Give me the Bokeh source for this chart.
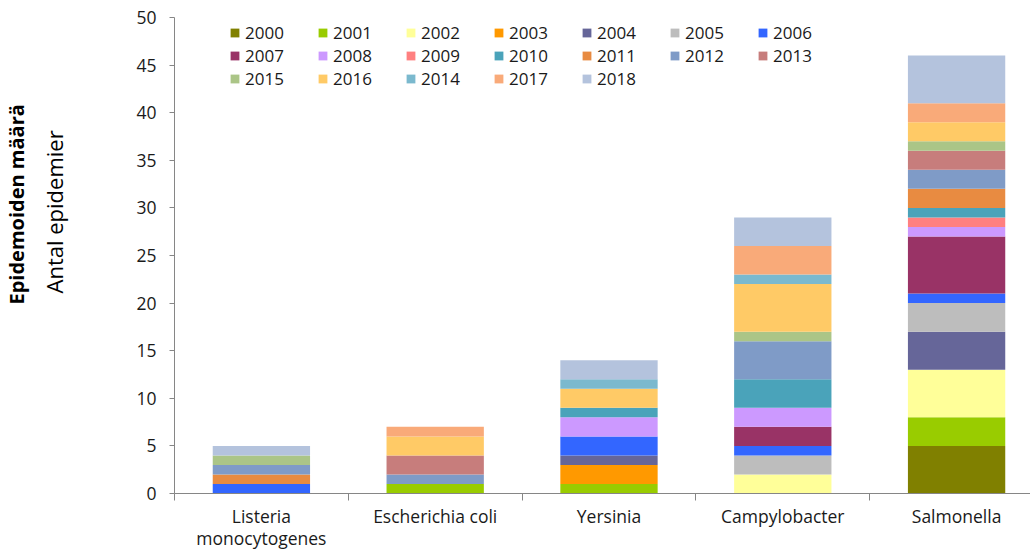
from bokeh.plotting import figure
from bokeh.models import ColumnDataSource, FixedTicker, Range1d, Title, Legend
from bokeh.embed import file_html
from bokeh.resources import INLINE

categories = ["Listeria\nmonocytogenes", "Escherichia coli", "Yersinia", "Campylobacter", "Salmonella"]

# outbreaks per year (Listeria, E. coli, Yersinia, Campylobacter, Salmonella)
y2000 = [0, 0, 0, 0, 5]
y2001 = [0, 1, 1, 0, 3]
y2002 = [0, 0, 0, 2, 5]
y2003 = [0, 0, 2, 0, 0]
y2004 = [0, 0, 1, 0, 4]
y2005 = [0, 0, 0, 2, 3]
y2006 = [1, 0, 2, 1, 1]
y2007 = [0, 0, 0, 2, 6]
y2008 = [0, 0, 2, 2, 1]
y2009 = [0, 0, 0, 0, 1]
y2010 = [0, 0, 1, 3, 1]
y2011 = [1, 0, 0, 0, 2]
y2012 = [1, 1, 0, 4, 2]
y2013 = [0, 2, 0, 0, 2]
y2015 = [1, 0, 0, 1, 1]
y2016 = [0, 2, 2, 5, 2]
y2014 = [0, 0, 1, 1, 0]
y2017 = [0, 1, 0, 3, 2]
y2018 = [1, 0, 2, 3, 5]

years = ["2000", "2001", "2002", "2003", "2004", "2005", "2006", "2007", "2008", "2009",
         "2010", "2011", "2012", "2013", "2015", "2016", "2014", "2017", "2018"]
series = [y2000, y2001, y2002, y2003, y2004, y2005, y2006, y2007, y2008, y2009,
          y2010, y2011, y2012, y2013, y2015, y2016, y2014, y2017, y2018]
colors = ["#808000", "#99CC00", "#FFFF99", "#FF9900", "#666699", "#BDBDBD", "#3366FF",
          "#993366", "#CC99FF", "#FF8080", "#4AA3BA", "#E88B41", "#7F9BC7", "#C77D7C",
          "#ABC587", "#FFCA66", "#7BB9CE", "#F9AA79", "#B4C3DD"]
y_ticks = list(range(0, 51, 5))

FONT = "Open Sans"
TXT = "#1a1a1a"

xs = [i + 0.5 for i in range(len(categories))]
data = {"x": xs}
for yr, s in zip(years, series):
    data[yr] = s
source = ColumnDataSource(data)

p = figure(width=1030, height=553, output_backend="svg", toolbar_location=None,
           x_range=Range1d(0, 857 / 174), y_range=Range1d(0, 50),
           min_border_left=173, min_border_right=0, min_border_top=17, min_border_bottom=60)
p.outline_line_color = None
p.grid.visible = False

renderers = p.vbar_stack(years, x="x", width=0.56, color=colors, line_color=None, source=source)

legend = Legend(items=[(yr, [r]) for yr, r in zip(years, renderers)],
                location=(55, 403), orientation="horizontal", ncols=7,
                padding=0, margin=0, spacing=0, label_width=72, label_height=20,
                glyph_width=11, glyph_height=11, label_standoff=5,
                label_text_font=FONT, label_text_font_size="17px", label_text_color=TXT,
                border_line_color=None, background_fill_alpha=0)
p.add_layout(legend, "center")

# x axis: category labels at centres, tick marks between categories
ax = p.xaxis[0]
ax.ticker = FixedTicker(ticks=xs, minor_ticks=[0, 1, 2, 3, 4])
ax.major_label_overrides = {x: c for x, c in zip(xs, categories)}
ax.major_tick_line_color = None
ax.major_tick_out = 0
ax.major_tick_in = 0
ax.minor_tick_out = 7
ax.minor_tick_in = 0
ax.minor_tick_line_color = "#868686"
ax.axis_line_color = "#868686"
ax.major_label_standoff = 3
ax.major_label_text_font = FONT
ax.major_label_text_font_size = "17.5px"
ax.major_label_text_line_height = 0.95
ax.major_label_text_color = TXT

ay = p.yaxis[0]
ay.ticker = FixedTicker(ticks=y_ticks)
ay.major_tick_out = 5
ay.major_tick_in = 0
ay.minor_tick_line_color = None
ay.axis_line_color = "#868686"
ay.major_tick_line_color = "#868686"
ay.major_label_standoff = 13
ay.major_label_text_font = FONT
ay.major_label_text_font_size = "17.5px"
ay.major_label_text_color = TXT
# invisible spacer between tick labels and the axis titles
ay.axis_label = "\u00a0"
ay.axis_label_text_font_size = "1px"
ay.axis_label_standoff = 55

t1 = Title(text="Antal epidemier", align="left", vertical_align="middle", offset=200, standoff=10,
           text_font=FONT, text_font_size="22px", text_font_style="normal", text_color="#000000")
p.add_layout(t1, "left")
t2 = Title(text="Epidemoiden määrä", align="left", vertical_align="middle", offset=189, standoff=3,
           text_font=FONT, text_font_size="20px", text_font_style="bold", text_color="#000000")
p.add_layout(t2, "left")

open("out.html", "w").write(file_html(p, INLINE))
